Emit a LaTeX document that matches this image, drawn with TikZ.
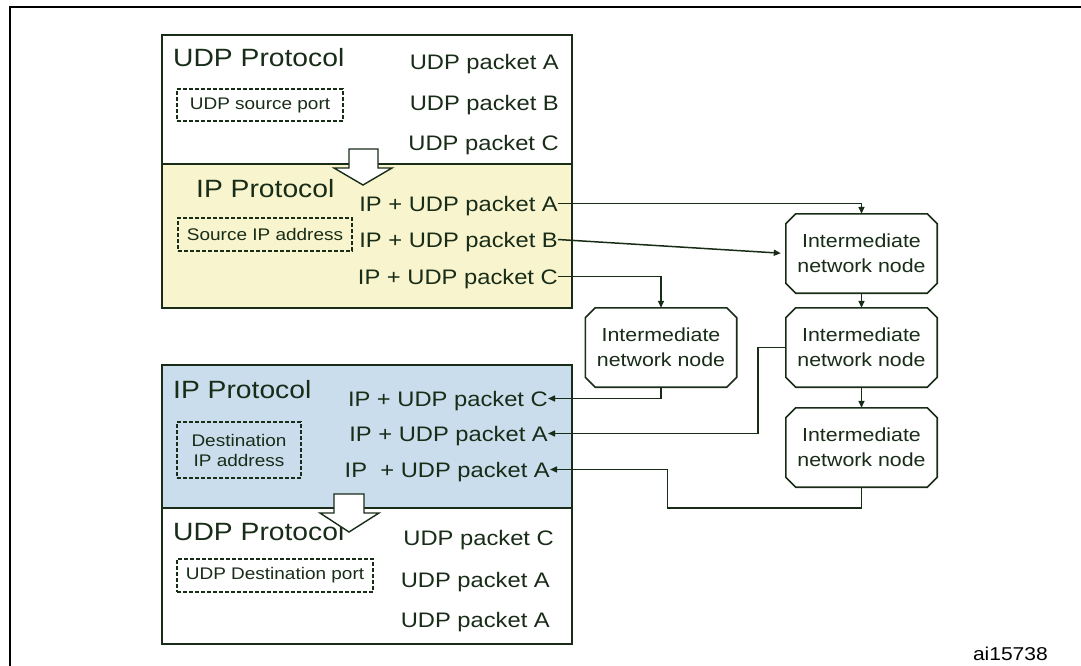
\documentclass[tikz,border=0pt]{standalone}
\usepackage{fontspec}
\setmainfont[FakeStretch=1.13]{Liberation Sans}
\usetikzlibrary{arrows.meta}
\definecolor{dkgreen}{RGB}{24,44,24}
\definecolor{yelfill}{RGB}{247,244,206}
\definecolor{bluefill}{RGB}{202,221,236}
\tikzset{
  boxline/.style={draw=dkgreen,line width=1.6pt},
  head/.style={font=\fontsize{25}{29}\selectfont,text=dkgreen,inner sep=0pt,anchor=base west},
  pkt/.style={font=\fontsize{21}{25}\selectfont,text=dkgreen,inner sep=0pt,anchor=base east,text height=15pt,text depth=0pt},
  dashbox/.style={draw=dkgreen,line width=1.2pt,dash pattern=on 4pt off 2pt,font=\fontsize{16.8}{20}\selectfont,text=dkgreen,align=center,inner sep=0pt},
  inode/.style={rectangle,fill=white,minimum width=151pt,minimum height=79pt,inner sep=0pt,font=\fontsize{18.9}{25}\selectfont,text=dkgreen,align=center},
  octline/.style={draw=dkgreen,line width=1.6pt,line join=miter},
  conn/.style={draw=dkgreen,line width=1.5pt,-{Triangle[length=7pt,width=6pt]}},
  bigarrow/.style={draw=dkgreen,line width=1.4pt,fill=white,line join=miter}
}
\begin{document}
\begin{tikzpicture}[x=1pt,y=-1pt]
\useasboundingbox (0,0) rectangle (1081,666);
% outer frame
\draw[black,line width=2.5pt] (10,666) -- (10,7) -- (1081,7);
% sender stack
\fill[yelfill] (162,164) rectangle (572,308);
\draw[boxline] (162,35) rectangle (572,308);
\draw[boxline] (162,164) -- (572,164);
% receiver stack
\fill[bluefill] (162,365) rectangle (572,508);
\draw[boxline] (162,365) rectangle (572,644);
\draw[boxline] (162,508) -- (572,508);
% top UDP
\node[head] (udp1) at (173,67) {UDP Protocol};
\node[pkt] (ua) at (559,70) {UDP packet A};
\node[pkt] (ub) at (559,111) {UDP packet B};
\node[pkt] (uc) at (559,150) {UDP packet C};
\node[dashbox,minimum width=166pt,minimum height=32pt] (usp) at (260,105) {UDP source port};
% top IP
\node[head] (ip1) at (196,197) {IP Protocol};
\node[pkt] (pa) at (558,211) {IP + UDP packet A};
\node[pkt] (pb) at (558,247) {IP + UDP packet B};
\node[pkt] (pc) at (558,284) {IP + UDP packet C};
\node[dashbox,minimum width=174pt,minimum height=33pt] (sip) at (265,234.5) {Source IP address};
\draw[bigarrow] (349,149) -- (378,149) -- (378,168) -- (392,168) -- (363,185) -- (334,168) -- (349,168) -- cycle;
% bottom IP
\node[head] (ip2) at (173,398) {IP Protocol};
\node[pkt] (rc) at (548,406) {IP + UDP packet C};
\node[pkt] (ra1) at (548,441) {IP + UDP packet A};
\node[pkt] (ra2) at (550,477) {IP \ + UDP packet A};
\node[dashbox,minimum width=124pt,minimum height=56pt] (dip) at (239,450) {Destination\\IP address};
% bottom UDP
\node[head] (udp2) at (173,540) {UDP Protocol};
\node[pkt] (dc) at (554,545) {UDP packet C};
\node[pkt] (da1) at (550,587) {UDP packet A};
\node[pkt] (da2) at (550,627) {UDP packet A};
\node[dashbox,minimum width=196pt,minimum height=33pt] (udport) at (275,575.5) {UDP Destination port};
\draw[bigarrow] (334,494) -- (364,494) -- (364,513) -- (379,513) -- (349,532) -- (320,513) -- (334,513) -- cycle;
% intermediate nodes
\node[inode] (n1) at (861.5,253.5) {Intermediate\\network node};
\node[inode] (n2) at (861.5,347.5) {Intermediate\\network node};
\node[inode] (n3) at (861.5,447.5) {Intermediate\\network node};
\node[inode] (nl) at (661,347.5) {Intermediate\\network node};
\foreach \n in {n1,n2,n3,nl}{
  \draw[octline] ([xshift=10pt]\n.north west) -- ([xshift=-10pt]\n.north east)
    -- ([yshift=-10pt]\n.north east) -- ([yshift=10pt]\n.south east)
    -- ([xshift=-10pt]\n.south east) -- ([xshift=10pt]\n.south west)
    -- ([yshift=10pt]\n.south west) -- ([yshift=-10pt]\n.north west) -- cycle;
}
% connectors
\draw[conn] (pa.east) -| (n1.north);
\draw[conn,shorten >=5pt] (pb.east) -- (n1.west);
\draw[conn] (pc.east) -| (nl.north);
\draw[conn] (n1.south) -- (n2.north);
\draw[conn] (n2.south) -- (n3.north);
\draw[conn] (nl.south) |- (rc.east);
\draw[conn] (n2.west) -- ++(-28,0) |- (ra1.east);
\draw[conn] (n3.south) -- ++(0,21) -- ++(-194,0) |- (ra2.east);
% figure id
\node[font=\fontsize{18.6}{22}\selectfont,text=black,inner sep=0pt,anchor=base east] (fid) at (1048,660) {ai15738};
\end{tikzpicture}
\end{document}
